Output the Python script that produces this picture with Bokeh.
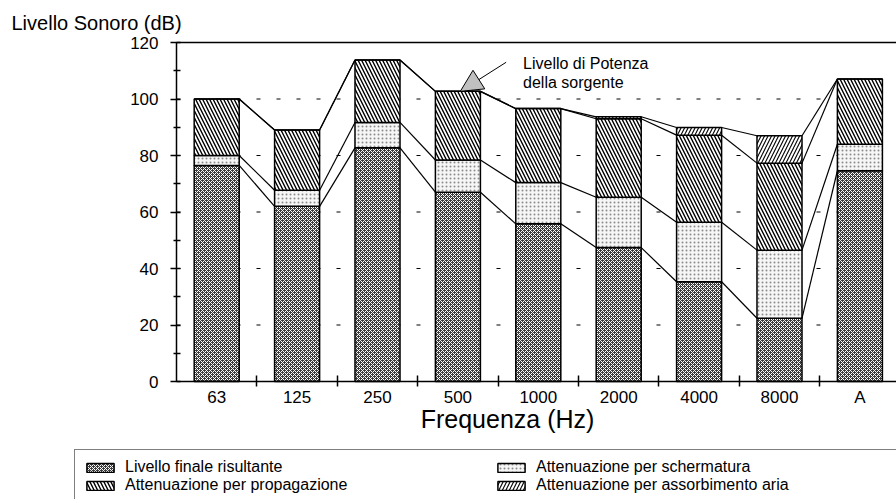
import numpy as np
from bokeh.plotting import figure
from bokeh.models import (ColumnDataSource, FixedTicker, LinearAxis, Range1d, Label,
                          Arrow, NormalHead, Legend, LegendItem)
from bokeh.embed import file_html
from bokeh.resources import INLINE

# ---- data (dB) ----
categories = ["63", "125", "250", "500", "1000", "2000", "4000", "8000", "A"]
livello_finale = [76.5, 62.0, 82.7, 67.0, 55.8, 47.4, 35.3, 22.4, 74.6]
att_schermatura = [3.5, 5.7, 9.0, 11.4, 14.6, 17.8, 21.1, 24.1, 9.4]
att_propagazione = [20.0, 21.3, 22.1, 24.3, 26.2, 27.8, 30.8, 30.8, 23.1]
att_aria = [0.0, 0.0, 0.0, 0.0, 0.0, 0.7, 2.7, 9.7, 0.0]
y_ticks = [0, 20, 40, 60, 80, 100, 120]
y_minor = [10, 30, 50, 70, 90, 110]
grid_levels = [20, 40, 60, 80, 100]
legend_labels = ["Livello finale risultante", "Attenuazione per schermatura",
                 "Attenuazione per propagazione", "Attenuazione per assorbimento aria"]

FONT = "Liberation Sans"
BAR_W = 0.56
W, H = 896, 499
PX_X = 80.4          # pixels per category
PX_Y = 2.825         # pixels per dB
X0_PX, Y0_PX = 176, 381   # screen position of the origin

# ranges chosen so the frame fills the whole figure and every annotation stays inside it
x_start = -X0_PX / PX_X
x_end = (W - X0_PX) / PX_X
y_start = -(H - Y0_PX) / PX_Y
y_end = Y0_PX / PX_Y

xc = np.arange(len(categories)) + 0.5
src = ColumnDataSource(dict(x=xc, finale=livello_finale, scherm=att_schermatura,
                            prop=att_propagazione, aria=att_aria))

p = figure(width=W, height=H, output_backend="svg", toolbar_location=None, title=None,
           x_range=Range1d(x_start, x_end), y_range=Range1d(y_start, y_end),
           min_border=0)
p.background_fill_color = "white"
p.border_fill_color = "white"
p.outline_line_color = None
p.xgrid.visible = False
p.ygrid.visible = False

# dashed grid lines (only over the plotting area)
p.segment(x0=[0] * len(grid_levels), x1=[x_end] * len(grid_levels), y0=grid_levels, y1=grid_levels,
          line_color="black", line_dash="4 16", line_width=1)

# y axis
ya = p.yaxis[0]
ya.fixed_location = 0
ya.bounds = (0, 120)
ya.ticker = FixedTicker(ticks=y_ticks, minor_ticks=y_minor)
ya.axis_line_width = 1.5
ya.major_tick_line_width = 1.5
ya.minor_tick_line_width = 1.5
ya.major_tick_in = 4
ya.major_tick_out = 6
ya.minor_tick_in = 4
ya.minor_tick_out = 3
ya.major_label_standoff = 12
ya.major_label_text_font = FONT
ya.major_label_text_font_size = "17px"
ya.major_label_text_color = "black"

# x axis: labels at centres, ticks at category boundaries
xa = p.xaxis[0]
xa.fixed_location = 0
xa.bounds = (0, x_end)
xa.ticker = FixedTicker(ticks=list(xc), minor_ticks=list(np.arange(1, len(categories))))
xa.major_label_overrides = {float(x): c for x, c in zip(xc, categories)}
xa.axis_line_width = 1.5
xa.major_tick_in = 0
xa.major_tick_out = 0
xa.minor_tick_in = 6
xa.minor_tick_out = 5
xa.minor_tick_line_width = 1.5
xa.major_label_standoff = 1
xa.major_label_text_font = FONT
xa.major_label_text_font_size = "17px"
xa.major_label_text_color = "black"

# top frame line
top_axis = LinearAxis(fixed_location=120, bounds=(0, x_end), ticker=FixedTicker(ticks=[]),
                      major_tick_in=0, major_tick_out=0, minor_tick_in=0, minor_tick_out=0,
                      axis_line_width=1.5, major_label_text_font_size="0px")
p.add_layout(top_axis, "above")

# stacked bars
rs = p.vbar_stack(["finale", "scherm", "prop", "aria"], x="x", width=BAR_W, source=src,
                  fill_color=["#3c3c3c", "#f6f6f6", "white", "white"],
                  hatch_pattern=["diagonal_cross", "dot", "left_diagonal_line", "right_diagonal_line"],
                  hatch_color=["white", "#8a8a8a", "black", "black"],
                  hatch_scale=[4, 4, 7, 7],
                  hatch_weight=[1, 1, 1.4, 1.1],
                  line_color="black", line_width=1.5)

# connecting lines between layer boundaries
stack = np.vstack([livello_finale, att_schermatura, att_propagazione, att_aria])
levels = np.cumsum(stack, axis=0)
x0s, y0s, x1s, y1s = [], [], [], []
for lev in levels:
    for i in range(len(categories) - 1):
        x0s.append(xc[i] + BAR_W / 2)
        y0s.append(lev[i])
        x1s.append(xc[i + 1] - BAR_W / 2)
        y1s.append(lev[i + 1])
p.segment(x0=x0s, y0=y0s, x1=x1s, y1=y1s, line_color="black", line_width=1.2)

# annotation with arrow
p.add_layout(Arrow(end=NormalHead(size=22, fill_color="#c0c0c0", line_color="black", line_width=1),
                   x_start=4.1, y_start=113.0, x_end=3.53, y_end=levels[-1][3],
                   line_color="black", line_width=1))
p.add_layout(Label(x=4.31, y=112.6, text="Livello di Potenza", text_font=FONT, text_color="black",
                   text_font_size="16px", text_baseline="middle", text_align="left"))
p.add_layout(Label(x=4.31, y=105.8, text="della sorgente", text_font=FONT, text_color="black",
                   text_font_size="16px", text_baseline="middle", text_align="left"))

# axis titles
p.add_layout(Label(x=11, y=H - 22, x_units="screen", y_units="screen", text="Livello Sonoro (dB)",
                   text_font=FONT, text_font_size="20px", text_color="black",
                   text_baseline="middle", text_align="left"))
p.add_layout(Label(x=507, y=H - 418, x_units="screen", y_units="screen", text="Frequenza (Hz)",
                   text_font=FONT, text_font_size="25px", text_color="black",
                   text_baseline="middle", text_align="center"))

# legend
order = [0, 2, 1, 3]
legend = Legend(items=[LegendItem(label=legend_labels[k], renderers=[rs[k]]) for k in order],
                orientation="vertical", nrows=2, location=(74, -4), margin=0,
                padding=8, spacing=0, glyph_width=34, glyph_height=11, label_height=14,
                label_width=369, label_standoff=8, label_text_font=FONT,
                label_text_font_size="16px", label_text_color="black",
                border_line_color="black", border_line_width=1.5,
                background_fill_color="white", background_fill_alpha=1)
p.add_layout(legend, "center")

open("out.html", "w").write(file_html(p, INLINE))
